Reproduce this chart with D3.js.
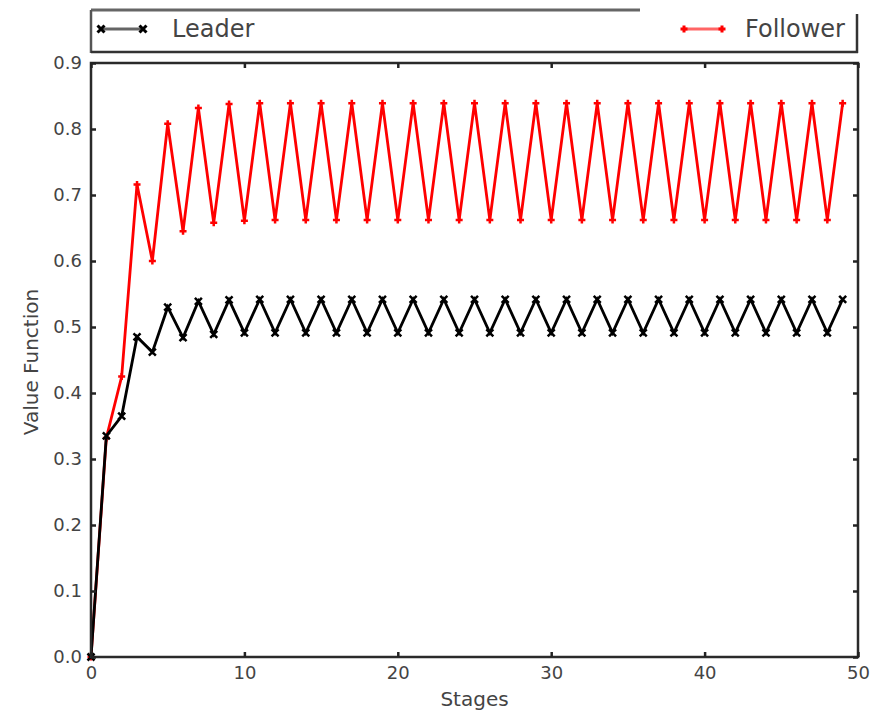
<!DOCTYPE html>
<html><head><meta charset="utf-8">
<script src="https://cdn.jsdelivr.net/npm/d3@7"></script>
<style>body{margin:0;background:#fff}svg{display:block}text{font-family:"DejaVu Sans",sans-serif}</style>
</head><body><svg id="c" width="879" height="717"></svg>
<script>
const stages = d3.range(0, 50);
const leader = [0.0,0.335,0.365,0.485,0.462,0.530,0.484,0.539,0.489,0.541,
  0.491,0.542,0.491,0.542,0.491,0.542,0.491,0.542,0.491,0.542,
  0.491,0.542,0.491,0.542,0.491,0.542,0.491,0.542,0.491,0.542,
  0.491,0.542,0.491,0.542,0.491,0.542,0.491,0.542,0.491,0.542,
  0.491,0.542,0.491,0.542,0.491,0.542,0.491,0.542,0.491,0.542];
const follower = [0.0,0.332,0.425,0.716,0.600,0.808,0.645,0.832,0.658,0.838,
  0.661,0.839,0.662,0.839,0.662,0.839,0.662,0.839,0.662,0.839,
  0.662,0.839,0.662,0.839,0.662,0.839,0.662,0.839,0.662,0.839,
  0.662,0.839,0.662,0.839,0.662,0.839,0.662,0.839,0.662,0.839,
  0.662,0.839,0.662,0.839,0.662,0.839,0.662,0.839,0.662,0.839];
const xTicks = [0,10,20,30,40,50];
const yTicks = [0,0.1,0.2,0.3,0.4,0.5,0.6,0.7,0.8,0.9];
const seriesNames = ["Leader","Follower"];

const svg = d3.select("#c");
const L=91, R=858, T=63, B=657;
const x = d3.scaleLinear().domain([0,50]).range([L,R]);
const y = d3.scaleLinear().domain([0,0.9]).range([B,T]);
const txt = "#444";

// series
const line = d3.line().x((d,i)=>x(stages[i])).y(d=>y(d));
function drawSeries(data, color, marker){
  svg.append("path").datum(data).attr("d",line).attr("fill","none")
    .attr("stroke",color).attr("stroke-width",2.8).attr("stroke-linejoin","miter");
  const g = svg.append("g");
  data.forEach((d,i)=>{
    const cx=x(stages[i]), cy=y(d), s=3.5;
    if(marker==="x"){
      g.append("path").attr("d",`M${cx-s},${cy-s}L${cx+s},${cy+s}M${cx-s},${cy+s}L${cx+s},${cy-s}`)
        .attr("stroke",color).attr("stroke-width",2.5);
    } else {
      g.append("path").attr("d",`M${cx-s},${cy}L${cx+s},${cy}M${cx},${cy-s}L${cx},${cy+s}`)
        .attr("stroke",color).attr("stroke-width",2.5);
    }
  });
}
drawSeries(follower,"#ff0000","+");
drawSeries(leader,"#000000","x");

// frame
svg.append("rect").attr("x",L).attr("y",T).attr("width",R-L).attr("height",B-T)
  .attr("fill","none").attr("stroke","#2a2a2a").attr("stroke-width",2.5);

// axes ticks inward
const xb = svg.append("g").attr("transform",`translate(0,${B})`)
  .call(d3.axisBottom(x).tickValues(xTicks).tickSize(-5).tickPadding(9).tickFormat(d3.format("d")));
const xt = svg.append("g").attr("transform",`translate(0,${T})`)
  .call(d3.axisTop(x).tickValues(xTicks).tickSize(-5).tickFormat(""));
const yl = svg.append("g").attr("transform",`translate(${L},0)`)
  .call(d3.axisLeft(y).tickValues(yTicks).tickSize(-5).tickPadding(9).tickFormat(d3.format(".1f")));
const yr = svg.append("g").attr("transform",`translate(${R},0)`)
  .call(d3.axisRight(y).tickValues(yTicks).tickSize(-5).tickFormat(""));
[xb,xt,yl,yr].forEach(g=>{
  g.select(".domain").remove();
  g.selectAll(".tick line").attr("stroke","#222").attr("stroke-width",2.5);
  g.selectAll("text").attr("fill",txt).style("font-size","18px").style("font-family","DejaVu Sans");
});

// axis labels
svg.append("text").attr("x",(L+R)/2).attr("y",706).attr("text-anchor","middle")
  .attr("fill",txt).style("font-size","20px").text("Stages");
svg.append("text").attr("transform",`translate(38,${(T+B)/2+2}) rotate(-90)`).attr("text-anchor","middle")
  .attr("fill",txt).style("font-size","20px").text("Value Function");

// legend
const lg = svg.append("g");
lg.append("line").attr("x1",91).attr("x2",640).attr("y1",10).attr("y2",10).attr("stroke","#666").attr("stroke-width",3);
lg.append("line").attr("x1",91).attr("x2",91).attr("y1",10).attr("y2",53).attr("stroke","#555").attr("stroke-width",2.5);
lg.append("line").attr("x1",91).attr("x2",858).attr("y1",52).attr("y2",52).attr("stroke","#333").attr("stroke-width",2.5);
lg.append("line").attr("x1",857).attr("x2",857).attr("y1",14).attr("y2",53).attr("stroke","#333").attr("stroke-width",2.5);
const legItems = [
  {name:seriesNames[0], color:"#000", x1:101, x2:143, tx:172, marker:"x"},
  {name:seriesNames[1], color:"#ff0000", x1:684, x2:722, tx:745, marker:"+"}
];
legItems.forEach(it=>{
  const cy=29;
  lg.append("line").attr("x1",it.x1).attr("x2",it.x2).attr("y1",cy).attr("y2",cy)
    .attr("stroke",it.color).attr("stroke-width",3).attr("opacity",0.6);
  [it.x1,it.x2].forEach(cx=>{
    const s=3.5;
    const d = it.marker==="x" ? `M${cx-s},${cy-s}L${cx+s},${cy+s}M${cx-s},${cy+s}L${cx+s},${cy-s}`
                              : `M${cx-s},${cy}L${cx+s},${cy}M${cx},${cy-s}L${cx},${cy+s}`;
    lg.append("path").attr("d",d).attr("stroke",it.color).attr("stroke-width",3);
  });
  lg.append("text").attr("x",it.tx).attr("y",cy+8).attr("fill",txt).style("font-size","24px").text(it.name);
});
</script></body></html>
